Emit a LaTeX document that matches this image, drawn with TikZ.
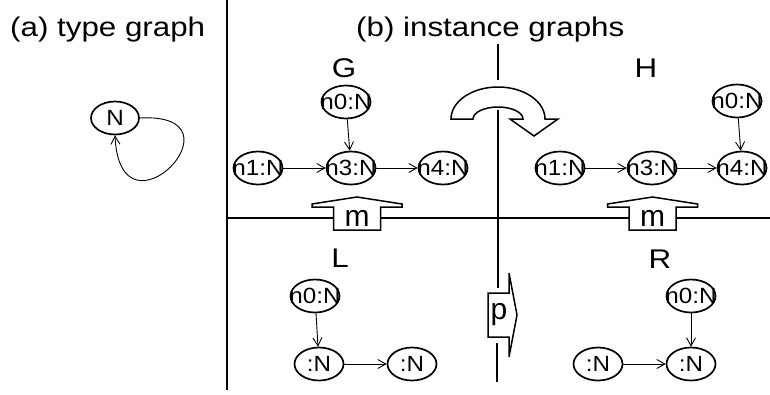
\documentclass[tikz,border=0pt]{standalone}
\usepackage{fontspec}
\setmainfont{Liberation Sans}
\newfontfamily\hfont[FakeStretch=1.16]{Liberation Sans}
\newfontfamily\nfont[FakeStretch=1.1]{Liberation Sans}
\usetikzlibrary{shapes.geometric,arrows.meta}
\newcommand\nlbl[1]{\makebox[0pt]{#1}}
\begin{document}
\begin{tikzpicture}[x=1pt,y=-1pt,
  inst/.style={ellipse,draw,line width=1.7pt,minimum width=49pt,minimum height=33pt,inner sep=0pt,font=\nfont\fontsize{22}{24}\selectfont},
  edge/.style={line width=0.9pt,-{Straight Barb[length=8pt,width=9pt,line width=0.9pt]}},
  head/.style={font=\hfont\fontsize{27}{30}\selectfont,inner sep=0pt},
  boxlbl/.style={font=\fontsize{30}{32}\selectfont,inner sep=0pt},
  divider/.style={line width=2pt},
  bigarrow/.style={draw,fill=white,line width=1.5pt,line join=miter},
]
\useasboundingbox (0,0) rectangle (770,394);

% dividers
\draw[divider] (227,0) -- (227,390);
\draw[divider] (227,218) -- (770,218);
\draw[divider] (498,44) -- (498,80);
\draw[divider] (498,110) -- (498,288);
\draw[divider] (497,343) -- (497,382);

% headings
\node[head,anchor=base west] (ha) at (10,36) {(a) type graph};
\node[head,anchor=base west] (hb) at (356,36) {(b) instance graphs};
\node[head,anchor=base] (G) at (344,77) {G};
\node[head,anchor=base] (H) at (646,77) {H};
\node[head,anchor=base] (L) at (340,267) {L};
\node[head,anchor=base] (R) at (660,268) {R};

% type graph
\node[inst,minimum width=48pt] (N) at (115,118) {\nlbl{N}};
\draw[edge] (N.east) .. controls (250,112) and (120,248) .. (N.south);

% G
\node[inst] (g0) at (346,102) {\nlbl{n0:N}};
\node[inst] (g1) at (258,168) {\nlbl{n1:N}};
\node[inst] (g3) at (351,168) {\nlbl{n3:N}};
\node[inst] (g4) at (443,168) {\nlbl{n4:N}};
\draw[edge] (g0) -- (g3);
\draw[edge] (g1) -- (g3);
\draw[edge] (g3) -- (g4);

% H
\node[inst] (h0) at (737,101) {\nlbl{n0:N}};
\node[inst] (h1) at (560,168) {\nlbl{n1:N}};
\node[inst] (h3) at (652,168) {\nlbl{n3:N}};
\node[inst] (h4) at (742,168) {\nlbl{n4:N}};
\draw[edge] (h0) -- (h4);
\draw[edge] (h1) -- (h3);
\draw[edge] (h3) -- (h4);

% L
\node[inst] (l0) at (315,296) {\nlbl{n0:N}};
\node[inst] (l1) at (319,364) {\nlbl{:N}};
\node[inst] (l2) at (412,364) {\nlbl{:N}};
\draw[edge] (l0) -- (l1);
\draw[edge] (l1) -- (l2);

% R
\node[inst] (r0) at (691,296) {\nlbl{n0:N}};
\node[inst] (r1) at (598,364) {\nlbl{:N}};
\node[inst] (r2) at (691,364) {\nlbl{:N}};
\draw[edge] (r0) -- (r2);
\draw[edge] (r1) -- (r2);

% curved arrow
\draw[bigarrow] (451,119) arc[start angle=180,end angle=0,x radius=47pt,y radius=32pt]
  -- (558,119) -- (534,136) -- (510,119) -- (523,119)
  arc[start angle=0,end angle=180,x radius=25pt,y radius=12pt] -- cycle;

% m arrows
\foreach \cx/\nm in {357/ml,652.5/mr}{
  \draw[bigarrow] (\cx,197) -- (\cx+45,204) -- (\cx+45,207) -- (\cx+23.5,207) -- (\cx+23.5,230)
    -- (\cx-23.5,230) -- (\cx-23.5,207) -- (\cx-45,207) -- (\cx-45,204) -- cycle;
  \node[boxlbl] (\nm) at (\cx,218.5) {m};
}

% p arrow
\draw[bigarrow] (488,293) -- (509,293) -- (509,273) -- (517,315) -- (509,357) -- (509,337) -- (488,337) -- cycle;
\node[boxlbl] (p) at (499,315) {p};
\end{tikzpicture}
\end{document}
